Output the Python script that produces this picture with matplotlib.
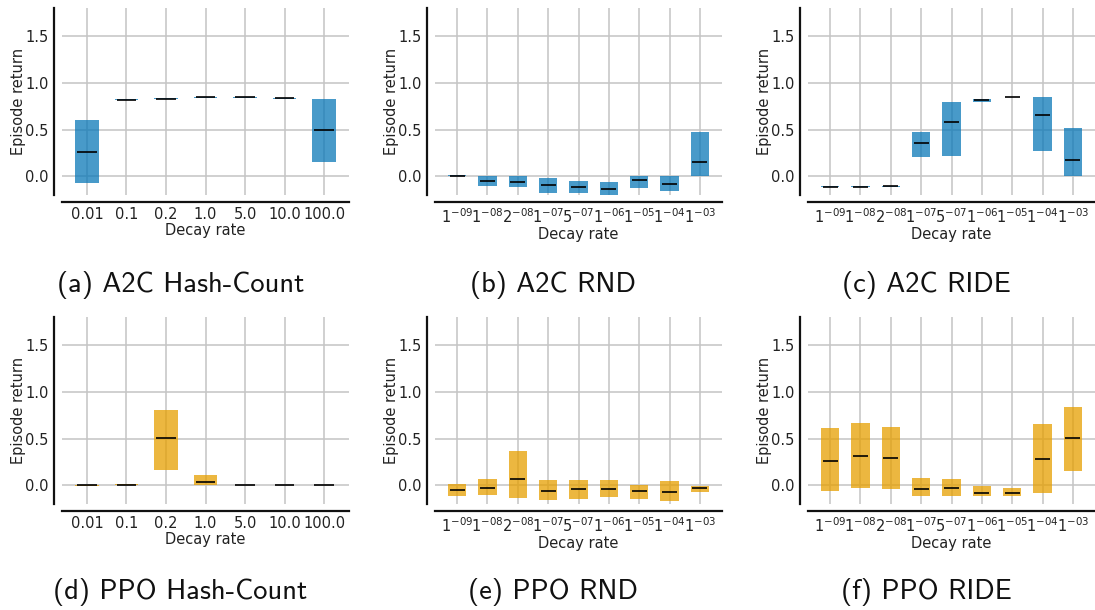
import matplotlib
matplotlib.use("Agg")
import matplotlib.pyplot as plt
import numpy as np

plt.rcParams["font.family"] = ["DejaVu Sans"]
plt.rcParams["mathtext.fontset"] = "dejavusans"

# Decay-rate settings for each exploration bonus
hash_rates = ["0.01", "0.1", "0.2", "1.0", "5.0", "10.0", "100.0"]
net_rates = [r"$1^{-09}$", r"$1^{-08}$", r"$2^{-08}$", r"$1^{-07}$", r"$5^{-07}$",
             r"$1^{-06}$", r"$1^{-05}$", r"$1^{-04}$", r"$1^{-03}$"]

# Episode return: lower bound, median, upper bound per decay rate
a2c_hash_low = [-0.071, 0.812, 0.830, 0.840, 0.840, 0.832, 0.154]
a2c_hash_med = [0.26, 0.818, 0.832, 0.843, 0.843, 0.836, 0.493]
a2c_hash_high = [0.60, 0.826, 0.838, 0.848, 0.848, 0.842, 0.825]

a2c_rnd_low = [0.000, -0.104, -0.114, -0.179, -0.179, -0.200, -0.125, -0.157, 0.004]
a2c_rnd_med = [0.007, -0.054, -0.057, -0.089, -0.118, -0.139, -0.036, -0.079, 0.157]
a2c_rnd_high = [0.010, 0.000, 0.000, -0.021, -0.054, -0.064, 0.000, 0.000, 0.471]

a2c_ride_low = [-0.116, -0.116, -0.113, 0.205, 0.216, 0.799, 0.845, 0.270, 0.000]
a2c_ride_med = [-0.112, -0.112, -0.108, 0.356, 0.583, 0.820, 0.849, 0.655, 0.169]
a2c_ride_high = [-0.108, -0.108, -0.104, 0.471, 0.795, 0.827, 0.852, 0.849, 0.518]

ppo_hash_low = [-0.008, 0.000, 0.165, 0.000, 0.000, 0.000, 0.000]
ppo_hash_med = [0.002, 0.007, 0.504, 0.036, 0.003, 0.003, 0.003]
ppo_hash_high = [0.005, 0.018, 0.802, 0.112, 0.006, 0.006, 0.006]

ppo_rnd_low = [-0.115, -0.104, -0.137, -0.158, -0.147, -0.126, -0.147, -0.169, -0.072]
ppo_rnd_med = [-0.050, -0.025, 0.068, -0.058, -0.043, -0.040, -0.065, -0.072, -0.025]
ppo_rnd_high = [0.011, 0.065, 0.367, 0.061, 0.061, 0.061, 0.007, 0.050, -0.004]

ppo_ride_low = [-0.061, -0.029, -0.040, -0.115, -0.115, -0.115, -0.115, -0.083, 0.151]
ppo_ride_med = [0.259, 0.317, 0.291, -0.043, -0.032, -0.079, -0.086, 0.284, 0.504]
ppo_ride_high = [0.612, 0.665, 0.626, 0.076, 0.065, -0.007, -0.032, 0.655, 0.842]

captions = ["(a) A2C Hash-Count", "(b) A2C RND", "(c) A2C RIDE",
            "(d) PPO Hash-Count", "(e) PPO RND", "(f) PPO RIDE"]

blue = "#0a78b8"
orange = "#e69f00"

panels = [
    (hash_rates, a2c_hash_low, a2c_hash_med, a2c_hash_high, blue),
    (net_rates, a2c_rnd_low, a2c_rnd_med, a2c_rnd_high, blue),
    (net_rates, a2c_ride_low, a2c_ride_med, a2c_ride_high, blue),
    (hash_rates, ppo_hash_low, ppo_hash_med, ppo_hash_high, orange),
    (net_rates, ppo_rnd_low, ppo_rnd_med, ppo_rnd_high, orange),
    (net_rates, ppo_ride_low, ppo_ride_med, ppo_ride_high, orange),
]

W, H = 1095, 610
fig = plt.figure(figsize=(W / 100, H / 100), dpi=100)

lefts = [62, 435, 808]
tops = [8, 317]
ax_w, ax_h = 287, 187
caption_y = [285, 592]

for i, (labels, low, med, high, color) in enumerate(panels):
    r, c = divmod(i, 3)
    left_px, top_px = lefts[c], tops[r]
    ax = fig.add_axes([left_px / W, 1 - (top_px + ax_h) / H, ax_w / W, ax_h / H])
    x = np.arange(len(labels))
    low = np.asarray(low)
    high = np.asarray(high)
    ax.bar(x, high - low, bottom=low, width=0.6, color=color, alpha=0.75,
           linewidth=0, zorder=3)
    ax.hlines(med, x - 0.25, x + 0.25, colors="black", linewidth=1.2, zorder=4)

    ax.set_ylim(-0.2, 1.8)
    ax.set_yticks([0.0, 0.5, 1.0, 1.5])
    ax.set_yticklabels(["0.0", "0.5", "1.0", "1.5"])
    ax.set_xticks(x)
    ax.set_xticklabels(labels)
    ax.tick_params(length=0, labelsize=10.5, pad=3.5, colors="#222222")
    ax.grid(True, color="#c4c4c4", linewidth=1.1, zorder=0)
    ax.set_axisbelow(True)

    for side in ("top", "right"):
        ax.spines[side].set_visible(False)
    ax.spines["left"].set_position(("outward", 6))
    ax.spines["bottom"].set_position(("outward", 5))
    for side in ("left", "bottom"):
        ax.spines[side].set_linewidth(1.6)
        ax.spines[side].set_color("#111111")

    ax.set_xlabel("Decay rate", fontsize=10.5, labelpad=1, color="#222222")
    ax.set_ylabel("Episode return", fontsize=10.5, labelpad=-0.5, color="#222222")

    cx = (left_px + ax_w / 2 - 25) / W
    fig.text(cx, 1 - caption_y[r] / H, captions[i], ha="center", va="center",
             fontsize=20.5, family=["cmss10", "DejaVu Sans"], color="#111111")

fig.savefig("out.png", dpi=100)
